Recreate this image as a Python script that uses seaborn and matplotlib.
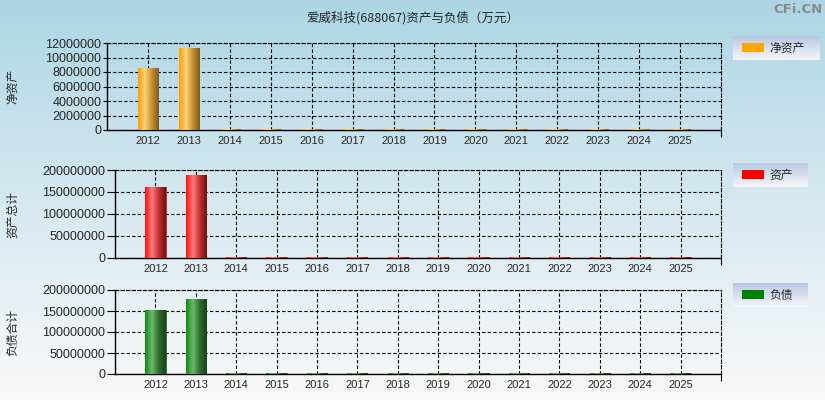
"""
Balance sheet bars (net assets / total assets / liabilities) for 688067.
"""

import matplotlib

matplotlib.use("Agg")
import matplotlib.pyplot as plt
import numpy as np
import pandas as pd
import seaborn as sns
from matplotlib.colors import LinearSegmentedColormap
from matplotlib.patches import Rectangle

years = ["2012", "2013", "2014", "2015", "2016", "2017", "2018",
         "2019", "2020", "2021", "2022", "2023", "2024", "2025"]
net_assets = [8550000, 11300000, 150000, 150000, 150000, 150000, 150000,
              150000, 150000, 150000, 150000, 150000, 150000, 150000]
total_assets = [160700000, 188600000, 2000000, 2000000, 2000000, 2000000, 2000000,
                2000000, 2000000, 2000000, 2000000, 2000000, 2000000, 2000000]
liabilities = [152400000, 178600000, 1900000, 1900000, 1900000, 1900000, 1900000,
               1900000, 1900000, 1900000, 1900000, 1900000, 1900000, 1900000]

panel_labels = ["净资产", "资产总计", "负债合计"]
legend_labels = ["净资产", "资产", "负债"]
yticks_top = [0, 2000000, 4000000, 6000000, 8000000, 10000000, 12000000]
yticks_big = [0, 50000000, 100000000, 150000000, 200000000]
title = "爱威科技(688067)资产与负债（万元）"

sns.set_style("white")
plt.rcParams["font.family"] = ["Liberation Sans", "Noto Sans CJK SC"]
cjk = ["Noto Sans CJK SC", "DejaVu Sans"]

fig = plt.figure(figsize=(8.25, 4.0), dpi=100)

# page background gradient
bg = fig.add_axes([0, 0, 1, 1], zorder=-10)
top_c = np.array([172, 214, 229]) / 255
mid_c = np.array([214, 232, 240]) / 255
bot_c = np.array([250, 248, 248]) / 255
t = np.linspace(0, 1, 256)[:, None]
grad = np.where(t < 0.5, top_c + (mid_c - top_c) * (t / 0.5),
                mid_c + (bot_c - mid_c) * ((t - 0.5) / 0.5))
bg.imshow(grad[:, None, :].repeat(2, axis=1), aspect="auto", extent=[0, 1, 0, 1])
bg.axis("off")

fig.text(0.5, 0.955, title, ha="center", va="center", fontsize=9, family=cjk)
fig.text(0.997, 0.977, "CFi.CN", ha="right", va="center", fontsize=9.5,
         color="#8a8a8a", fontweight="bold", family="DejaVu Sans")

panels = [
    dict(vals=net_assets, rect=[0.1297, 0.675, 0.7442, 0.2175], ticks=yticks_top,
         ylim=12000000, color="#FFA500", ticklen=3,
         grad=["#FFA000", "#FFD27A", "#C8902E", "#7A5A1E"],
         leg=[733, 36, 87, 24]),
    dict(vals=total_assets, rect=[0.1394, 0.355, 0.7345, 0.22], ticks=yticks_big,
         ylim=200000000, color="#FF0000", ticklen=6,
         grad=["#FF1010", "#FF7A7A", "#C03030", "#701010"],
         leg=[733, 163, 75, 24]),
    dict(vals=liabilities, rect=[0.1394, 0.065, 0.7345, 0.21], ticks=yticks_big,
         ylim=200000000, color="#008000", ticklen=6,
         grad=["#108A10", "#6CB86C", "#2E6E2E", "#1A401A"],
         leg=[733, 283, 75, 24]),
]

W, H = 825, 400
for i, p in enumerate(panels):
    ax = fig.add_axes(p["rect"])
    ax.patch.set_alpha(0)
    df = pd.DataFrame({"year": years, "value": p["vals"]})
    sns.barplot(data=df, x="year", y="value", order=years, color=p["color"],
                width=0.5, edgecolor=p["grad"][2], linewidth=0.6, ax=ax, zorder=3)
    cmap = LinearSegmentedColormap.from_list("bar", p["grad"])
    shade = np.linspace(0, 1, 64)[None, :]
    for bar in ax.patches:
        x0, y0 = bar.get_x(), bar.get_y()
        w, h = bar.get_width(), bar.get_height()
        if h <= 0:
            continue
        im = ax.imshow(shade, cmap=cmap, aspect="auto", zorder=4,
                       extent=[x0, x0 + w, y0, y0 + h])
        im.set_clip_path(bar)

    ax.set_xlim(-1, 14)
    ax.set_ylim(0, p["ylim"])
    ax.set_yticks(p["ticks"])
    ax.set_yticklabels([str(v) for v in p["ticks"]])
    ax.set_xticks(range(len(years)))
    ax.set_xticklabels(years)
    ax.set_xticks([14], minor=True)
    ax.set_xlabel("")
    ax.set_ylabel("")
    ax.grid(True, color="black", linestyle=(0, (3, 2)), linewidth=0.8, zorder=1)
    ax.set_axisbelow(True)
    ax.tick_params(axis="y", direction="out", length=p["ticklen"], width=0.8,
                   color="black", labelsize=9, pad=1, left=True)
    ax.tick_params(axis="x", which="major", length=0, labelsize=8, pad=4)
    ax.tick_params(axis="x", which="minor", direction="out", length=5, width=0.8,
                   color="black", bottom=True)
    for side in ["left", "bottom"]:
        ax.spines[side].set_color("black")
        ax.spines[side].set_linewidth(1.0)
    for side in ["top", "right"]:
        ax.spines[side].set_visible(True)
        ax.spines[side].set_color("black")
        ax.spines[side].set_linestyle((0, (3, 2)))
        ax.spines[side].set_linewidth(0.8)
    ax.set_zorder(2)

    fig.text(13 / W, p["rect"][1] + p["rect"][3] / 2, panel_labels[i], rotation=90,
             ha="center", va="center", fontsize=8.5, family=cjk)

    # legend box
    lx, ly, lw, lh = p["leg"]
    lax = fig.add_axes([lx / W, 1 - (ly + lh) / H, lw / W, lh / H])
    lg_top = np.array([184, 200, 226]) / 255
    lg_bot = np.array([246, 246, 250]) / 255
    tt = np.linspace(0, 1, 64)[:, None]
    lgrad = lg_top + (lg_bot - lg_top) * tt
    lax.imshow(lgrad[:, None, :].repeat(2, axis=1), aspect="auto", extent=[0, 1, 0, 1])
    lax.add_patch(Rectangle((9 / lw, 8 / lh), 22 / lw, 9 / lh, transform=lax.transAxes,
                            facecolor=p["color"], edgecolor="none"))
    lax.text(36 / lw, 0.5, legend_labels[i], transform=lax.transAxes, ha="left",
             va="center", fontsize=8.5, family=cjk)
    lax.set_xlim(0, 1)
    lax.set_ylim(0, 1)
    lax.axis("off")

fig.savefig("out.png", dpi=100)
